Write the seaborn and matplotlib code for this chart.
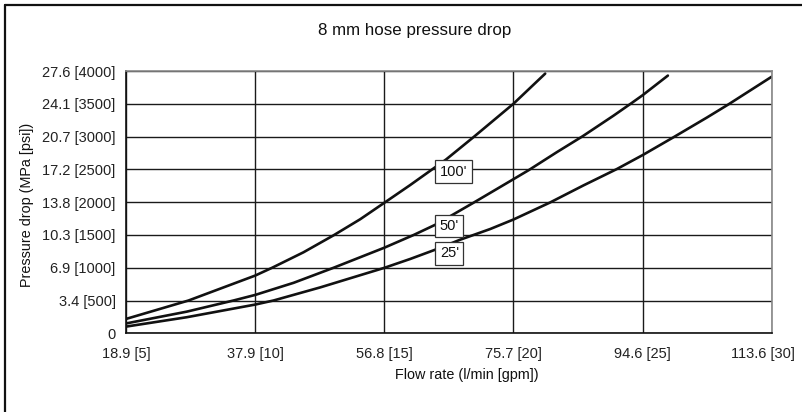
import matplotlib
matplotlib.use("Agg")
import matplotlib.pyplot as plt
from matplotlib.lines import Line2D
from matplotlib.transforms import ScaledTranslation
import pandas as pd
import seaborn as sns

# Flow rate in gpm and pressure drop in psi for each hose length
gpm_100 = [5, 7.42, 10, 10.65, 11.87, 13.04, 14.07, 15, 16.0, 16.98, 17.39, 18.45, 20, 21.23]
psi_100 = [219, 500, 880, 998, 1235, 1495, 1740, 1990, 2260, 2535, 2650, 2990, 3500, 3960]

gpm_50 = [5, 7.35, 9.16, 10, 11.49, 13.04, 15, 16.14, 17.0, 18.45, 20, 20.6,
          21.68, 22.68, 23.88, 24.59, 25, 25.98]
psi_50 = [150, 330, 500, 585, 770, 1000, 1305, 1500, 1660, 1990, 2350, 2490,
          2762, 3005, 3320, 3515, 3630, 3930]

gpm_25 = [5, 7.35, 10, 10.71, 12.52, 15, 16, 16.98, 17.93, 19.1, 20, 21.42, 22.71,
          24.0, 25, 26.2, 27.49, 28.33, 30]
psi_25 = [102, 245, 438, 500, 700, 998, 1133, 1276, 1426, 1590, 1735, 1995, 2255,
          2504, 2717, 2990, 3290, 3492, 3913]

# Axis ticks (gpm / psi) and their dual-unit labels
x_ticks = [5, 10, 15, 20, 25, 30]
x_labels = ["18.9 [5]", "37.9 [10]", "56.8 [15]", "75.7 [20]", "94.6 [25]", "113.6 [30]"]
y_ticks = [0, 500, 1000, 1500, 2000, 2500, 3000, 3500, 4000]
y_labels = ["0", "3.4 [500]", "6.9 [1000]", "10.3 [1500]", "13.8 [2000]",
            "17.2 [2500]", "20.7 [3000]", "24.1 [3500]", "27.6 [4000]"]

# Curve labels: text and anchor of the boxed label (gpm, psi)
labels = ["100'", "50'", "25'"]
label_x = [17.15, 17.15, 17.15]
label_y = [2467, 1636, 1217]

sns.set_style("white")
plt.rcParams["font.family"] = ["Liberation Sans", "DejaVu Sans"]

df = pd.concat([
    pd.DataFrame({"gpm": gpm_100, "psi": psi_100, "hose": "100'"}),
    pd.DataFrame({"gpm": gpm_50, "psi": psi_50, "hose": "50'"}),
    pd.DataFrame({"gpm": gpm_25, "psi": psi_25, "hose": "25'"}),
])

fig = plt.figure(figsize=(8.02, 4.12), dpi=100)
ax = fig.add_axes([126 / 802, 1 - 333.3 / 412, (771.7 - 126) / 802, (333.3 - 71) / 412])

sns.lineplot(data=df, x="gpm", y="psi", units="hose", estimator=None,
             color="#111111", linewidth=1.9, ax=ax, legend=False, sort=False)
for line in ax.get_lines():
    line.set_solid_joinstyle("round")

ax.set_xlim(5, 30)
ax.set_ylim(0, 4000)
ax.set_xticks(x_ticks)
ax.set_xticklabels(x_labels)
ax.set_yticks(y_ticks)
ax.set_yticklabels(y_labels)
ax.tick_params(axis="both", direction="inout", length=8, width=1.0,
               color="#222222", labelsize=10.5, labelcolor="#222222")
ax.tick_params(axis="x", pad=6.0)
ax.tick_params(axis="y", pad=3.5)
ax.set_xlabel("")
ax.set_ylabel("")

# the last x label sits a little inside the right edge
last = ax.get_xticklabels()[-1]
last.set_transform(last.get_transform() + ScaledTranslation(-9 / 100, 0, fig.dpi_scale_trans))

ax.grid(True, color="#1a1a1a", linewidth=1.0)
ax.set_axisbelow(True)
for side in ["left", "bottom"]:
    ax.spines[side].set_color("#111111")
    ax.spines[side].set_linewidth(1.2)
for side in ["top", "right"]:
    ax.spines[side].set_color("#888888")
    ax.spines[side].set_linewidth(1.2)

for txt, lx, ly in zip(labels, label_x, label_y):
    ax.text(lx, ly, txt, ha="left", va="center", fontsize=10.5, color="#111111",
            bbox=dict(boxstyle="square,pad=0.3", fc="white", ec="#333333", lw=0.9),
            zorder=5)

fig.text(414.5 / 802, 1 - 30 / 412, "8 mm hose pressure drop",
         ha="center", va="center", fontsize=12.2, color="#111111")
fig.text(467 / 802, 1 - 375 / 412, "Flow rate (l/min [gpm])",
         ha="center", va="center", fontsize=10.4, color="#111111")
fig.text(27 / 802, 1 - 205 / 412, "Pressure drop (MPa [psi])",
         ha="center", va="center", rotation=90, fontsize=10.4, color="#111111")

# Outer frame (left and top edges)
fig.add_artist(Line2D([4.5 / 802, 4.5 / 802], [0, 1 - 4.5 / 412],
                      transform=fig.transFigure, color="#111111", linewidth=1.6))
fig.add_artist(Line2D([4.5 / 802, 1], [1 - 4.5 / 412, 1 - 4.5 / 412],
                      transform=fig.transFigure, color="#111111", linewidth=1.6))

fig.savefig("out.png", dpi=100)
